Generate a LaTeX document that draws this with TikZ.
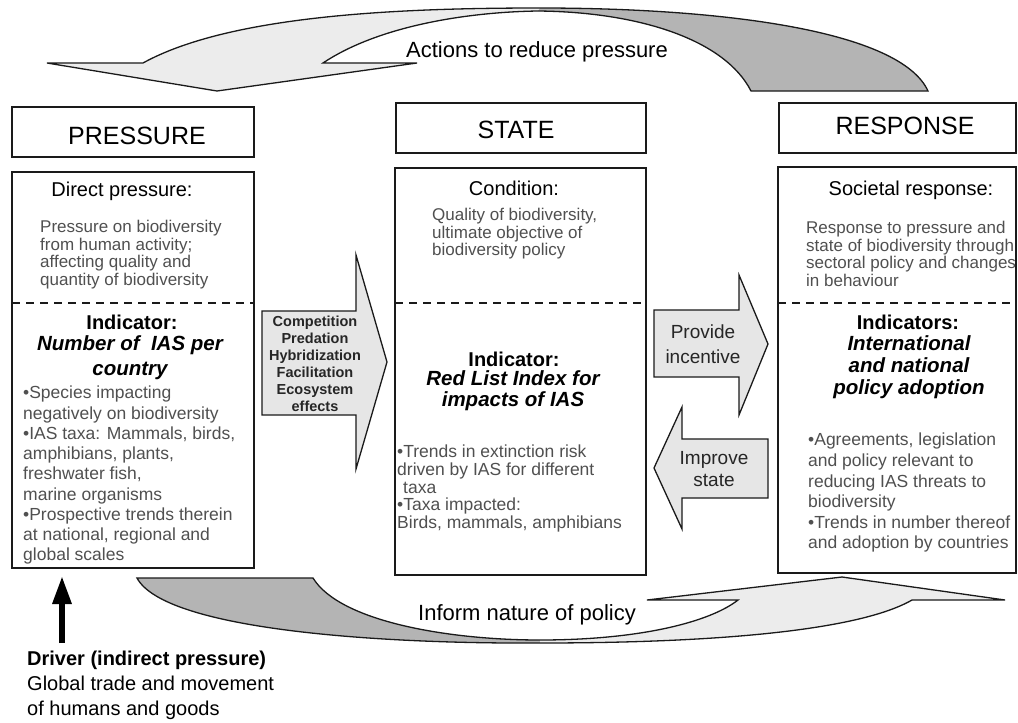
\documentclass[tikz,border=0pt]{standalone}
\usepackage{fontspec}
\setmainfont{Liberation Sans}
\usetikzlibrary{arrows.meta}
\definecolor{txtgray}{HTML}{505050}
\definecolor{lightfill}{HTML}{ECECEC}
\definecolor{darkfill}{HTML}{B4B4B4}
\definecolor{arrfill}{HTML}{E6E6E6}
\definecolor{edge}{HTML}{1A1A1A}
\newcommand\fsz[2]{\fontsize{#1}{#2}\selectfont}
\begin{document}
\begin{tikzpicture}[x=1pt,y=-1pt,
  framebox/.style={draw=edge, line width=1.5pt, inner sep=0pt},
  hdrtext/.style={font=\fsz{25}{30}, inner sep=0pt},
  headtext/.style={font=\fsz{20}{24}, inner sep=0pt},
  desctext/.style={font=\fsz{17}{17.7}, text=txtgray, align=left, anchor=north west, inner sep=0pt},
  indtext/.style={font=\bfseries\fsz{20}{24}, inner sep=0pt},
  indname/.style={font=\bfseries\itshape\fsz{20.5}{25}, align=center, inner sep=0pt},
  bultext/.style={font=\fsz{17.5}{20.25}, text=txtgray, align=left, anchor=north west, inner sep=0pt},
  divider/.style={draw=edge, line width=1.5pt, dash pattern=on 8pt off 6pt},
  blockarrow/.style={draw=edge, line width=1.3pt, fill=arrfill, line join=miter},
  arrtext/.style={align=center, inner sep=0pt, text=black!85},
  ribbon/.style={draw=edge, line width=1.3pt},
  labeltext/.style={font=\fsz{22}{26}, inner sep=0pt}
]
\useasboundingbox (0,0) rectangle (1018,723);
\fill[white] (0,0) rectangle (1018,723);

% ---------- top ribbon arrow ----------
\fill[lightfill] (143,63) .. controls (230,15) and (400,8) .. (540,8) -- (538,11) .. controls (470,12) and (380,25) .. (323,63) -- cycle;
\fill[darkfill] (540,8) .. controls (720,8) and (900,30) .. (928,91) -- (751,91) .. controls (725,40) and (640,12) .. (538,11) -- cycle;
\fill[lightfill] (47,63) -- (417,63) -- (217,91) -- cycle;
\draw[ribbon] (143,63) .. controls (230,15) and (400,8) .. (540,8) .. controls (720,8) and (900,30) .. (928,91) -- (751,91) .. controls (725,40) and (640,12) .. (538,11) .. controls (470,12) and (380,25) .. (323,63) -- (417,63) -- (217,91) -- (47,63) -- cycle;
\node[labeltext] (actions) at (537,52) {Actions to reduce pressure};

% ---------- bottom ribbon arrow ----------
\fill[darkfill] (137,578) -- (313,578) .. controls (340,622) and (450,640) .. (540,640) -- (540,643) .. controls (380,644) and (165,630) .. (137,578) -- cycle;
\fill[lightfill] (540,643) .. controls (720,643) and (860,630) .. (912,600) -- (738,600) .. controls (710,622) and (640,640) .. (540,640) -- cycle;
\fill[lightfill] (647,600) -- (842,577) -- (1005,600) -- cycle;
\draw[ribbon] (137,578) -- (313,578) .. controls (340,622) and (450,640) .. (540,640) .. controls (640,640) and (710,622) .. (738,600) -- (647,600) -- (842,577) -- (1005,600) -- (912,600) .. controls (860,630) and (720,643) .. (540,643) .. controls (380,644) and (165,630) .. (137,578) -- cycle;
\node[labeltext] (inform) at (527,615) {Inform nature of policy};

% ---------- header boxes ----------
\node[framebox, minimum width=242pt, minimum height=50pt] (phead) at (133,132) {};
\node[hdrtext] (phtext) at (137,136) {PRESSURE};
\node[framebox, minimum width=250pt, minimum height=50pt] (shead) at (521,128) {};
\node[hdrtext] (shtext) at (516,130) {STATE};
\node[framebox, minimum width=237pt, minimum height=50pt] (rhead) at (897.5,128) {};
\node[hdrtext] (rhtext) at (905,126) {RESPONSE};

% ---------- content boxes ----------
\node[framebox, minimum width=242pt, minimum height=396pt] (pbox) at (133,370) {};
\node[framebox, minimum width=251pt, minimum height=407pt] (sbox) at (520.5,371.5) {};
\node[framebox, minimum width=238pt, minimum height=406pt] (rbox) at (897,370) {};

\coordinate (pdl) at (12,303); \coordinate (pdr) at (254,303);
\coordinate (sdl) at (395,303); \coordinate (sdr) at (646,303);
\coordinate (rdl) at (778,303); \coordinate (rdr) at (1016,303);
\draw[divider] (pdl) -- (pdr);
\draw[divider] (sdl) -- (sdr);
\draw[divider] (rdl) -- (rdr);

% ---------- PRESSURE content ----------
\node[headtext] (ptitle) at (122,191) {Direct pressure:};
\node[desctext] (pdesc) at (40,220) {Pressure on biodiversity\\from human activity;\\affecting quality and\\quantity of biodiversity};
\node[indtext] (pind) at (132,322) {Indicator:};
\node[indname] (pname) at (130,357.5) {Number of \ IAS per\\country};
\node[bultext] (pbul) at (23,386) {•Species impacting\\negatively on biodiversity\\•IAS taxa: Mammals, birds,\\amphibians, plants,\\freshwater fish,\\marine organisms\\•Prospective trends therein\\at national, regional and\\global scales};

% ---------- STATE content ----------
\node[headtext] (stitle) at (514,188) {Condition:};
\node[desctext] (sdesc) at (432,208) {Quality of biodiversity,\\ultimate objective of\\biodiversity policy};
\node[indtext] (sind) at (514,359) {Indicator:};
\node[indname, font=\bfseries\itshape\fsz{20.5}{21}] (sname) at (513,391) {Red List Index for\\impacts of IAS};
\node[bultext, font=\fsz{17.5}{17.7}] (sbul) at (397,445) {•Trends in extinction risk\\driven by IAS for different\\\hspace*{6pt}taxa\\•Taxa impacted:\\Birds, mammals, amphibians};

% ---------- RESPONSE content ----------
\node[headtext] (rtitle) at (911,190) {Societal response:};
\node[desctext] (rdesc) at (806,221) {Response to pressure and\\state of biodiversity through\\sectoral policy and changes\\in behaviour};
\node[indtext] (rind) at (908,322) {Indicators:};
\node[indname, font=\bfseries\itshape\fsz{20.5}{22}] (rname) at (909,367) {International\\and national\\policy adoption};
\node[bultext, font=\fsz{17.5}{20.6}] (rbul) at (808,433) {•Agreements, legislation\\and policy relevant to\\reducing IAS threats to\\biodiversity\\•Trends in number thereof\\and adoption by countries};

% ---------- block arrows ----------
\draw[blockarrow] (262,311) -- (356,311) -- (356,255) -- (387,362) -- (356,469) -- (356,415) -- (262,415) -- cycle;
\node[arrtext, font=\bfseries\fsz{14.5}{17}] (mech) at (315,364) {Competition\\Predation\\Hybridization\\Facilitation\\Ecosystem\\effects};

\draw[blockarrow] (654,310) -- (739,310) -- (739,275) -- (768,344) -- (739,415) -- (739,377) -- (654,377) -- cycle;
\node[arrtext, font=\fsz{19}{25}] (incent) at (703,344) {Provide\\incentive};

\draw[blockarrow] (768,439) -- (682,439) -- (682,407) -- (654,468) -- (682,529) -- (682,498) -- (768,498) -- cycle;
\node[arrtext, font=\fsz{19}{22}] (improve) at (714,469) {Improve\\state};

% ---------- driver ----------
\coordinate (drvbase) at (62,643);
\coordinate (drvtip) at (62,576);
\draw[line width=6pt, -{Triangle[length=28pt,width=18pt]}] (drvbase) -- (drvtip);
\node[font=\fsz{20}{25}, align=left, anchor=north west, inner sep=0pt] (driver) at (27,651) {\textbf{Driver (indirect pressure)}\\Global trade and movement\\of humans and goods};
\end{tikzpicture}
\end{document}
